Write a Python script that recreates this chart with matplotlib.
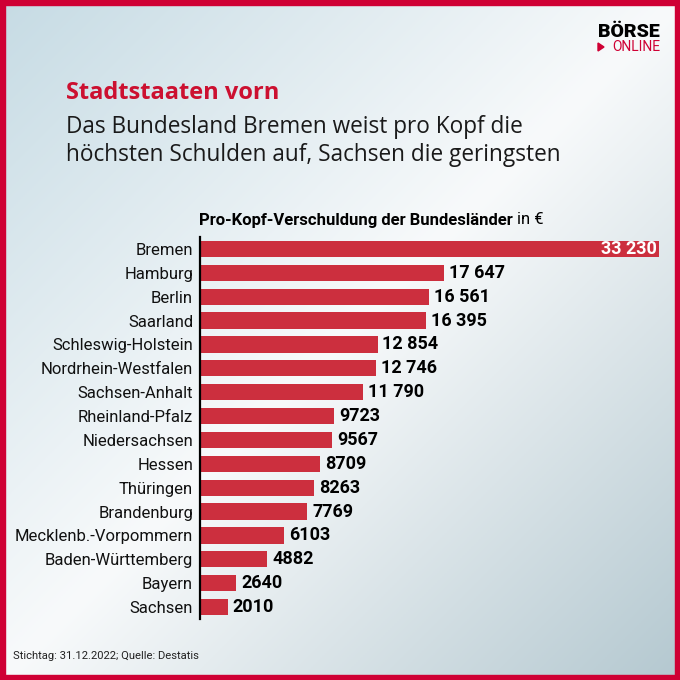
import numpy as np
import matplotlib
matplotlib.use("Agg")
import matplotlib.pyplot as plt
from matplotlib.patches import Rectangle

states = ["Bremen", "Hamburg", "Berlin", "Saarland", "Schleswig-Holstein",
          "Nordrhein-Westfalen", "Sachsen-Anhalt", "Rheinland-Pfalz",
          "Niedersachsen", "Hessen", "Thüringen", "Brandenburg",
          "Mecklenb.-Vorpommern", "Baden-Württemberg", "Bayern", "Sachsen"]
debt = [33230, 17647, 16561, 16395, 12854, 12746, 11790, 9723,
        9567, 8709, 8263, 7769, 6103, 4882, 2640, 2010]

W = H = 680
fig = plt.figure(figsize=(6.8, 6.8), dpi=100)

def fx(px):
    return px / W

def fy(py):
    return 1 - py / H

# background gradient
bg = fig.add_axes([0, 0, 1, 1])
bg.set_axis_off()
n = 300
xx, yy = np.meshgrid(np.linspace(0, 1, n), np.linspace(0, 1, n))
s = xx + yy
c0 = np.array([0xc6, 0xdb, 0xe4]) / 255
c1 = np.array([0xf8, 0xfa, 0xfb]) / 255
c2 = np.array([0xb4, 0xc8, 0xd0]) / 255
t1 = np.clip(s, 0, 1)[..., None]
t2 = np.clip(s - 1, 0, 1)[..., None]
img = np.where(s[..., None] <= 1, c0 + (c1 - c0) * t1, c1 + (c2 - c1) * t2)
bg.imshow(img, extent=[0, 1, 0, 1], origin="upper", aspect="auto")
bg.set_xlim(0, 1)
bg.set_ylim(0, 1)
red = "#cf0034"
b = 5 / W
for r in [(0, 0, 1, b), (0, 1 - b, 1, b), (0, 0, b, 1), (1 - b, 0, b, 1)]:
    bg.add_patch(Rectangle(r[:2], r[2], r[3], color=red, transform=bg.transAxes, zorder=5))

# logo
fig.text(fx(660), fy(37), "BÖRSE", ha="right", va="baseline", fontsize=14,
         fontweight="black", family="Roboto", color="black")
fig.text(fx(660), fy(51), "ONLINE", ha="right", va="baseline", fontsize=10,
         family="Roboto", color=red)
bg.add_patch(plt.Polygon([[fx(598), fy(43)], [fx(598), fy(51)], [fx(604), fy(47)]],
                         color=red, transform=bg.transAxes, zorder=6))

# titles
fig.text(fx(66), fy(93), "Stadtstaaten vorn", ha="left", va="center",
         fontsize=17, fontweight="bold", family="Open Sans", color="#cc1030")
fig.text(fx(66), fy(127), "Das Bundesland Bremen weist pro Kopf die", ha="left",
         va="center", fontsize=16.3, family="Open Sans", color="#1a1a1a")
fig.text(fx(66), fy(155), "höchsten Schulden auf, Sachsen die geringsten", ha="left",
         va="center", fontsize=16.3, family="Open Sans", color="#1a1a1a")

h1 = fig.text(fx(199), fy(220), "Pro-Kopf-Verschuldung der Bundesländer", ha="left",
              va="center", fontsize=12, fontweight="bold", family="Roboto", color="black")
fig.canvas.draw()
ext = h1.get_window_extent()
fig.text(ext.x1 / W + 4 / W, fy(220), "in €", ha="left", va="center", fontsize=12,
         family="Roboto", color="black")

# chart
ax = fig.add_axes([fx(200), fy(619), fx(659) - fx(200), (619 - 237) / H])
ax.patch.set_alpha(0)
y = np.arange(len(states))
ax.barh(y, debt, height=0.68, color="#cc2f3e", zorder=2)
ax.set_xlim(0, max(debt))
ax.set_ylim(len(states) - 0.5, -0.5)
for sp in ["top", "right", "bottom"]:
    ax.spines[sp].set_visible(False)
ax.spines["left"].set_linewidth(1.6)
ax.spines["left"].set_color("black")
ax.spines["left"].set_zorder(3)
ax.set_xticks([])
ax.set_yticks(y)
ax.set_yticklabels(states, family="Roboto", fontsize=12, color="#111111")
ax.tick_params(axis="y", length=0, pad=5)

def fmt(v):
    return f"{v:,}".replace(",", " ") if v >= 10000 else str(v)

for i, v in enumerate(debt):
    if i == 0:
        ax.text(v - 180, i, fmt(v), ha="right", va="center", color="white",
                fontsize=13, fontweight="bold", family="Roboto")
    else:
        ax.text(v + 350, i, fmt(v), ha="left", va="center", color="black",
                fontsize=13, fontweight="bold", family="Roboto")

fig.text(fx(13), fy(656), "Stichtag: 31.12.2022; Quelle: Destatis", ha="left",
         va="center", fontsize=8.1, family="Roboto", color="#222222")

fig.savefig("out.png", dpi=100)
